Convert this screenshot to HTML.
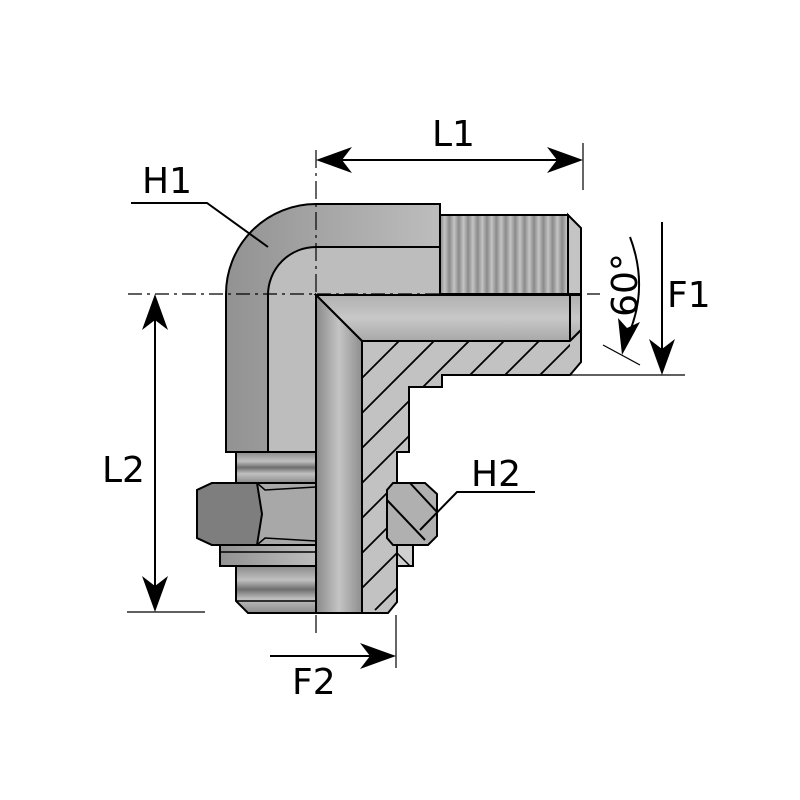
<!DOCTYPE html>
<html><head><meta charset="utf-8"><style>
html,body{margin:0;padding:0;background:#fff;width:800px;height:800px;overflow:hidden}
text{font-family:"DejaVu Sans","Liberation Sans",sans-serif;fill:#000}
</style></head><body>
<svg width="800" height="800" viewBox="0 0 800 800" xmlns="http://www.w3.org/2000/svg">
<defs>
<linearGradient id="gv" x1="0" x2="1" y1="0" y2="0">
<stop offset="0" stop-color="#8a8a8a"/><stop offset="0.5" stop-color="#c4c4c4"/><stop offset="1" stop-color="#8e8e8e"/></linearGradient>
<linearGradient id="gl" x1="0" x2="1"><stop offset="0" stop-color="#929292"/><stop offset="1" stop-color="#bdbdbd"/></linearGradient>
<linearGradient id="gh" x1="0" x2="0" y1="0" y2="1"><stop offset="0" stop-color="#b0b0b0"/><stop offset="0.5" stop-color="#c8c8c8"/><stop offset="1" stop-color="#a8a8a8"/></linearGradient>
<linearGradient id="rib" x1="0" x2="1"><stop offset="0" stop-color="#8a8a8a"/><stop offset="0.5" stop-color="#c4c4c4"/><stop offset="1" stop-color="#8a8a8a"/></linearGradient>
<pattern id="thr" width="9.4" height="10" patternUnits="userSpaceOnUse" x="440">
<rect width="9.4" height="10" fill="url(#rib)"/></pattern>
<linearGradient id="thh" x1="0" x2="0" y1="0" y2="1">
<stop offset="0" stop-color="#8a8a8a"/><stop offset="0.3" stop-color="#c0c0c0"/><stop offset="0.5" stop-color="#6e6e6e"/><stop offset="0.7" stop-color="#c0c0c0"/><stop offset="1" stop-color="#8a8a8a"/></linearGradient>
<clipPath id="hc"><path d="M362,341 L570,341 L570,375 L442,375 L442,387 L409,387 L409,452 L397,452 L397,613 L362,613 Z"/></clipPath>
</defs>
<g stroke="#000" stroke-width="2">
<path d="M226,452 L226,295 A90,90 0 0 1 316,204 L440,204 L440,295 L316,295 L316,452 Z" fill="url(#gl)"/>
<path d="M268,452 L268,295 A48,48 0 0 1 316,247 L440,247 L440,295 L316,295 L316,452Z" fill="#bdbdbd" stroke="none"/>
<path d="M268,452 L268,295 A48,48 0 0 1 316,247 L440,247" fill="none"/>
<rect x="440" y="215" width="128" height="79" fill="url(#thr)"/>
<path d="M568,215 L581,228 L581,294 L568,294 Z" fill="#c4c4c4"/>
<path d="M316,295 L581,295 L581,330 L570,341 L362,341 Z" fill="url(#gh)"/>
<line x1="570" y1="295" x2="570" y2="375"/>
<path d="M316,295 L362,341 L362,613 L316,613 Z" fill="url(#gv)"/>
<path d="M362,341 L570,341 L581,330 L581,362 L570,375 L442,375 L442,387 L409,387 L409,452 L397,452 L397,602 L388,613 L362,613 Z" fill="#c2c2c2"/>
<g clip-path="url(#hc)" stroke-width="1.8">
<path d="M362,378 L400,340 M362,413 L435,340 M362,448 L470,340 M362,483 L505,340 M362,518 L540,340 M362,553 L575,340 M362,588 L600,350 M375,610 L600,385 M410,610 L600,420"/>
</g>
<rect x="236" y="452" width="80" height="31" fill="url(#thh)"/>
<path d="M197,490 L212,483 L316,483 L316,545 L212,545 L197,538 Z" fill="#a8a8a8"/>
<path d="M197,490 L212,483 L257,483 L262,514 L257,545 L212,545 L197,538 Z" fill="#7e7e7e"/>
<path d="M257,483 L265,490 L316,487 M257,545 L265,538 L316,541" fill="none" stroke-width="1.5"/>
<rect x="220" y="545" width="96" height="21" fill="url(#gl)"/>
<line x1="220" y1="552" x2="316" y2="552" stroke-width="1.5"/>
<path d="M236,566 L316,566 L316,613 L248,613 L236,601 Z" fill="url(#thh)"/>
<line x1="236" y1="601" x2="316" y2="601" stroke-width="1.5"/>
<path d="M393,483 L425,483 L437,494 L437,536 L428,545 L393,545 L387,538 L387,490 Z" fill="#b0b0b0"/>
<path d="M387,500 L425,540 M410,483 L437,512" fill="none"/>
<path d="M397,545 L413,545 L413,566 L397,566 Z" fill="#d0d0d0"/>
<path d="M397,553 L410,566" fill="none" stroke-width="1.5"/>
</g>
<g stroke="#000" stroke-width="1.2" fill="none">
<path d="M128,294 L600,294" stroke-dasharray="14,5,3,5"/>
<path d="M316,150 L316,633" stroke-dasharray="18,5,3,5"/>
<line x1="583" y1="143" x2="583" y2="190"/>
<line x1="570" y1="375" x2="685" y2="375"/>
<line x1="396" y1="615" x2="396" y2="668"/>
<line x1="127" y1="612" x2="205" y2="612"/>
<path d="M131,203 L207,203 L268,247" stroke-width="2"/>
<path d="M535,492 L457,492 L420,530" stroke-width="2"/>
<line x1="603" y1="345" x2="640" y2="365"/>
</g>
<g stroke="#000" stroke-width="2" fill="none">
<line x1="330" y1="160" x2="570" y2="160"/>
<line x1="155" y1="305" x2="155" y2="600"/>
<line x1="662" y1="222" x2="662" y2="360"/>
<line x1="270" y1="656" x2="382" y2="656"/>
<path d="M630,237 Q650,290 626,340"/>
</g>
<g fill="#000">
<path d="M316,160 L352,147 L342,160 L352,173 Z"/>
<path d="M583,160 L547,147 L557,160 L547,173 Z"/>
<path d="M155,294 L142,330 L155,320 L168,330 Z"/>
<path d="M155,612 L142,576 L155,586 L168,576 Z"/>
<path d="M662,375 L649,339 L662,349 L675,339 Z"/>
<path d="M396,656 L360,643 L370,656 L360,669 Z"/>
<path d="M622,355 L618,318 L627,328 L640,322 Z"/>
</g>
<text x="432" y="146" font-size="36">L1</text>
<text x="142" y="193" font-size="36">H1</text>
<text x="102" y="482" font-size="36">L2</text>
<text x="667" y="307" font-size="36">F1</text>
<text x="471" y="486" font-size="36">H2</text>
<text x="292" y="694" font-size="36">F2</text>
<text transform="translate(637,285) rotate(-90)" font-size="36" text-anchor="middle">60°</text>
</svg>
</body></html>
